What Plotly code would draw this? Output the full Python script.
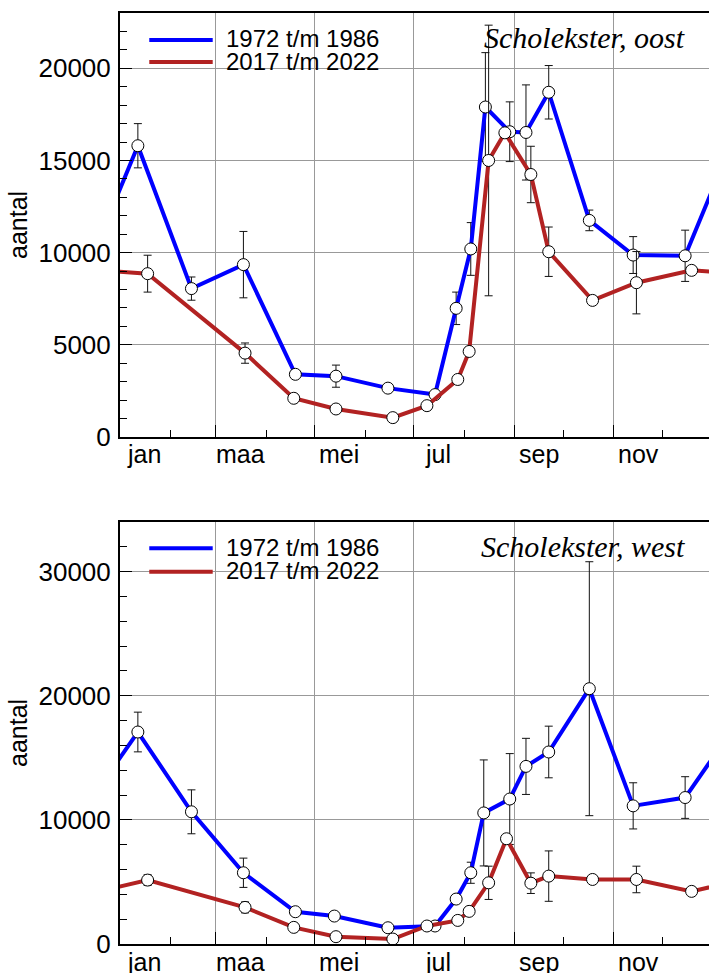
import plotly.graph_objects as go

# day of year for the monthly counts, two periods, two regions
# oost (east)
oost_old_days = [12, 45, 77, 109, 134, 166, 195, 208, 217, 226, 241, 251, 265, 290, 317, 349]
oost_old_vals = [15800, 8050, 9350, 3400, 3300, 2650, 2300, 6980, 10200, 17900, 16560, 16520, 18700, 11750, 9870, 9830]
oost_old_err = [1200, 630, 1800, None, 600, None, None, 880, 1430, 2950, 1620, 2580, 1450, 560, 1000, 1390]

oost_new_days = [18, 78, 108, 134, 169, 190, 209, 216, 228, 238, 254, 265, 292, 319, 353]
oost_new_vals = [8860, 4550, 2100, 1520, 1050, 1700, 3120, 4640, 15000, 16500, 14240, 10050, 7410, 8370, 9040]
oost_new_err = [1000, 550, None, None, None, None, None, None, 7340, None, 1530, 1340, None, 1690, None]

# west
west_old_days = [12, 45, 77, 109, 133, 166, 195, 208, 217, 225, 241, 251, 265, 290, 317, 349]
west_old_vals = [17080, 10650, 5740, 2600, 2250, 1310, 1450, 3620, 5740, 10560, 11680, 14310, 15470, 20570, 11130, 11800]
west_old_err = [1600, 1770, 1180, None, None, None, None, None, 850, 4270, 3660, 2260, 2080, 10230, 1860, 1680]

west_new_days = [18, 78, 108, 134, 169, 190, 209, 216, 228, 239, 254, 265, 292, 319, 353]
west_new_vals = [5150, 2950, 1340, 590, 400, 1450, 1900, 2630, 4930, 8480, 4900, 5470, 5200, 5200, 4240]
west_new_err = [430, 440, None, None, None, None, None, None, 1340, None, 830, 2030, None, 1070, None]

period_names = ["1972 t/m 1986", "2017 t/m 2022"]
period_colors = ["#0000ff", "#b22222"]
panel_titles = ["Scholekster, oost", "Scholekster, west"]

month_labels = ["jan", "maa", "mei", "jul", "sep", "nov"]
month_label_days = [16, 75, 136, 197, 259, 320]
major_month_days = [60, 121, 182, 244, 305]   # 1 mar, may, jul, sep, nov
minor_month_days = [32, 91, 152, 213, 274, 335]

XRANGE = [1, 363.7]
FONT = "Liberation Sans"


def wrap(days, vals):
    # repeat dec point before jan and jan point after dec so the line runs off the edges
    d = [days[-1] - 365] + days + [days[0] + 365]
    v = [vals[-1]] + vals + [vals[0]]
    return d, v


def add_series(fig, days, vals, err, color, xa, ya):
    d, v = wrap(days, vals)
    e = [None] + err + [None]
    fig.add_trace(go.Scatter(
        x=d, y=v, mode="lines+markers", xaxis=xa, yaxis=ya, showlegend=False,
        line=dict(color=color, width=4),
        marker=dict(symbol="circle", size=12, color="white", line=dict(color="black", width=1)),
        error_y=dict(type="data", array=e, visible=True, color="#111111", thickness=1, width=4),
    ))


fig = go.Figure()
add_series(fig, oost_old_days, oost_old_vals, oost_old_err, period_colors[0], "x", "y")
add_series(fig, oost_new_days, oost_new_vals, oost_new_err, period_colors[1], "x", "y")
add_series(fig, west_old_days, west_old_vals, west_old_err, period_colors[0], "x2", "y2")
add_series(fig, west_new_days, west_new_vals, west_new_err, period_colors[1], "x2", "y2")

xaxis_common = dict(
    range=XRANGE, tickmode="array", tickvals=major_month_days, ticktext=[""] * 5,
    ticks="inside", ticklen=12, tickwidth=1, tickcolor="black",
    showgrid=True, gridcolor="#999999", gridwidth=1,
    showline=True, linecolor="black", linewidth=2, mirror=True, zeroline=False,
    minor=dict(tickmode="array", tickvals=minor_month_days, ticks="inside",
               ticklen=7, tickcolor="black", showgrid=False),
)
yaxis_common = dict(
    ticks="inside", ticklen=12, tickwidth=1, tickcolor="black", tickformat="d",
    showgrid=True, gridcolor="#999999", gridwidth=1,
    showline=True, linecolor="black", linewidth=2, zeroline=False,
    tickfont=dict(family=FONT, size=26, color="black"), ticklabelstandoff=2,
)

top_dom = [507 / 931, 1.0]
bot_dom = [0.0, 422 / 931]

fig.update_layout(
    width=709, height=973,
    margin=dict(l=120, r=0, t=13, b=29),
    paper_bgcolor="white", plot_bgcolor="white",
    font=dict(family=FONT, size=25, color="black"),
    xaxis=dict(xaxis_common, anchor="y", domain=[0, 1]),
    xaxis2=dict(xaxis_common, anchor="y2", domain=[0, 1]),
    yaxis=dict(yaxis_common, anchor="x", domain=top_dom, range=[0, 23000], dtick=5000,
               minor=dict(dtick=1000, ticks="inside", ticklen=7, tickcolor="black", showgrid=False)),
    yaxis2=dict(yaxis_common, anchor="x2", domain=bot_dom, range=[0, 34000], dtick=10000,
                minor=dict(dtick=2000, ticks="inside", ticklen=7, tickcolor="black", showgrid=False)),
)

shapes = []
annotations = []
panels = [("x", "y domain", [0.9363, 0.8844], [0.9390, 0.8850], panel_titles[0], -0.002),
          ("x2", "y2 domain", [0.9377, 0.8822], [0.9400, 0.8840], panel_titles[1], -0.004)]
for xref, yref, leg_y, txt_y, title, lab_y in panels:
    for i in range(2):
        shapes.append(dict(type="line", xref="paper", yref=yref, x0=0.0497, x1=0.1574,
                           y0=leg_y[i], y1=leg_y[i], line=dict(color=period_colors[i], width=4)))
        annotations.append(dict(text=period_names[i], xref="paper", yref=yref, x=0.176, y=txt_y[i],
                                xanchor="left", yanchor="middle", showarrow=False,
                                font=dict(family=FONT, size=24, color="black")))
    annotations.append(dict(text="<i>" + title + "</i>", xref="paper", yref=yref, x=0.9626, y=0.943,
                            xanchor="right", yanchor="middle", showarrow=False,
                            font=dict(family="Liberation Serif", size=30, color="black")))
    annotations.append(dict(text="aantal", xref="paper", yref=yref, x=-0.1732, y=0.5,
                            xanchor="center", yanchor="middle", textangle=-90, showarrow=False,
                            font=dict(family=FONT, size=25, color="black")))
    # month names sit mid-month, between the month-start ticks
    for day, lab in zip(month_label_days, month_labels):
        annotations.append(dict(text=lab, xref=xref, yref=yref, x=day, y=lab_y,
                                xanchor="center", yanchor="top", showarrow=False,
                                font=dict(family=FONT, size=25, color="black")))

fig.update_layout(shapes=shapes, annotations=annotations)

fig.write_html("out.html", config={"displayModeBar": False},
               post_script="document.body.style.margin='0';")
